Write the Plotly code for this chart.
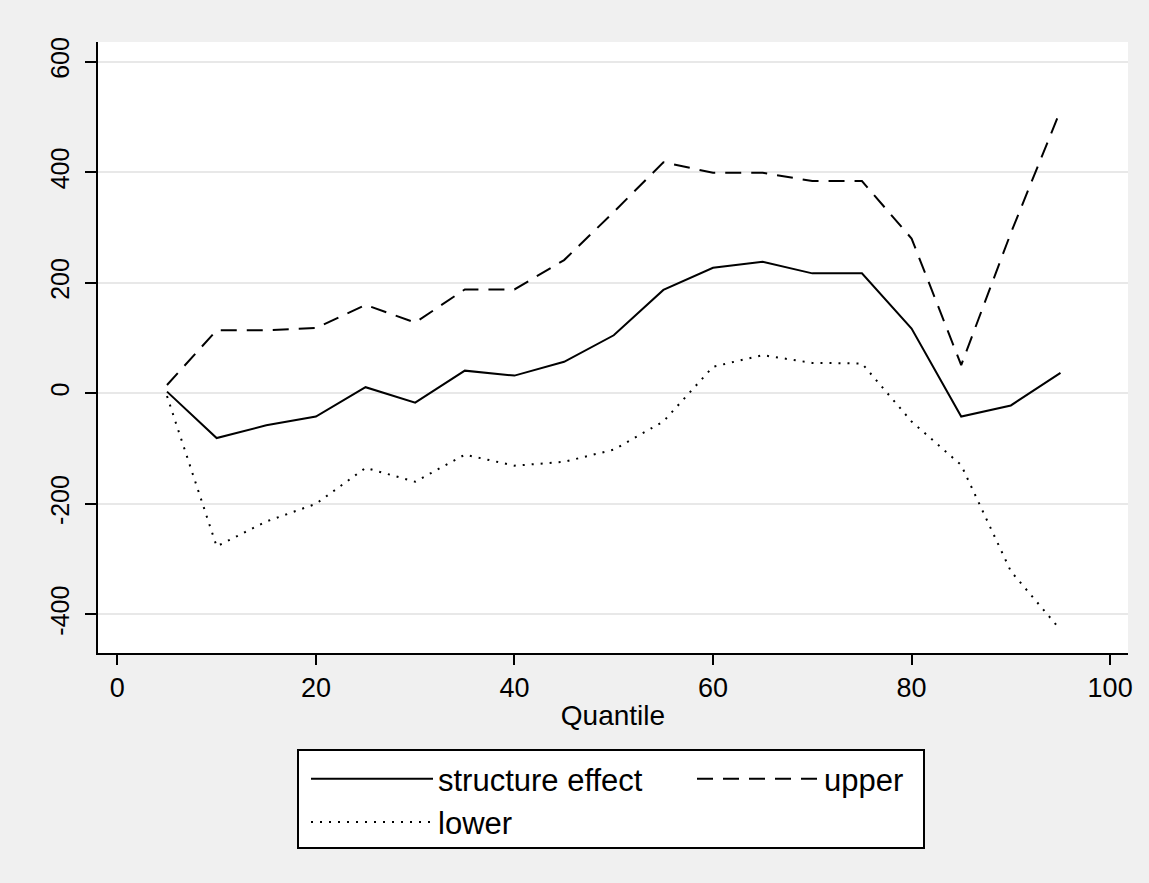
import plotly.graph_objects as go

quantile = [5, 10, 15, 20, 25, 30, 35, 40, 45, 50, 55, 60, 65, 70, 75, 80, 85, 90, 95]
structure_effect = [3, -81, -58, -42, 11, -17, 41, 32, 57, 105, 187, 227, 238, 217, 217, 117, -42, -22, 37]
upper = [15, 114, 114, 118, 160, 128, 188, 188, 241, 328, 418, 399, 399, 384, 384, 280, 51, 290, 512]
lower = [-5, -277, -232, -200, -135, -160, -111, -131, -124, -102, -51, 48, 69, 55, 54, -51, -130, -322, -428]

x_ticks = [0, 20, 40, 60, 80, 100]
y_ticks = [-400, -200, 0, 200, 400, 600]

FONT = "Liberation Sans, Arial, sans-serif"
W, H = 1149, 883
ML, MR, MT, MB = 98, 21, 42, 230
PW, PH = W - ML - MR, H - MT - MB


def px_x(p):
    return (p - ML) / PW


def px_y(p):
    return (H - MB - p) / PH


fig = go.Figure()
fig.add_trace(go.Scatter(x=quantile, y=structure_effect, mode="lines", name="structure effect",
                         line=dict(color="black", width=2), legend="legend"))
fig.add_trace(go.Scatter(x=quantile, y=upper, mode="lines", name="upper",
                         line=dict(color="black", width=2, dash="16px,10px"), legend="legend2"))
fig.add_trace(go.Scatter(x=quantile, y=lower, mode="lines", name="lower",
                         line=dict(color="black", width=2, dash="2px,7px"), legend="legend"))

# legend frame
fig.add_shape(type="rect", xref="paper", yref="paper",
              x0=px_x(298), x1=px_x(924), y0=px_y(848), y1=px_y(750),
              line=dict(color="black", width=2), fillcolor="white", layer="below")

leg_common = dict(orientation="v", bgcolor="rgba(0,0,0,0)", borderwidth=0,
                  font=dict(family=FONT, size=31, color="black"),
                  itemwidth=122, yanchor="top", xanchor="left", tracegroupgap=0)

fig.update_layout(
    width=W, height=H,
    margin=dict(l=ML, r=MR, t=MT, b=MB),
    paper_bgcolor="#f0f0f0",
    plot_bgcolor="white",
    font=dict(family=FONT, color="black"),
    showlegend=True,
    legend=dict(x=px_x(306), y=px_y(752), **leg_common),
    legend2=dict(x=px_x(692), y=px_y(752), **leg_common),
    xaxis=dict(
        range=[-1.95, 101.8], tickvals=x_ticks, ticktext=[str(v) for v in x_ticks],
        showgrid=False, zeroline=False, showline=True, linecolor="black", linewidth=2,
        ticks="outside", ticklen=10, tickwidth=2, tickcolor="black",
        tickfont=dict(family=FONT, size=27, color="black"),
        title=dict(text="Quantile", font=dict(family=FONT, size=28, color="black"), standoff=3),
    ),
    yaxis=dict(
        range=[-469.9, 635.6], tickvals=y_ticks, ticktext=[str(v) for v in y_ticks],
        showgrid=True, gridcolor="#e8e8e8", gridwidth=2, zeroline=False,
        showline=True, linecolor="black", linewidth=2,
        ticks="outside", ticklen=11, tickwidth=2, tickcolor="black",
        tickangle=-90, ticklabelstandoff=6,
        tickfont=dict(family=FONT, size=25, color="black"),
    ),
)

fig.write_html("out.html")
